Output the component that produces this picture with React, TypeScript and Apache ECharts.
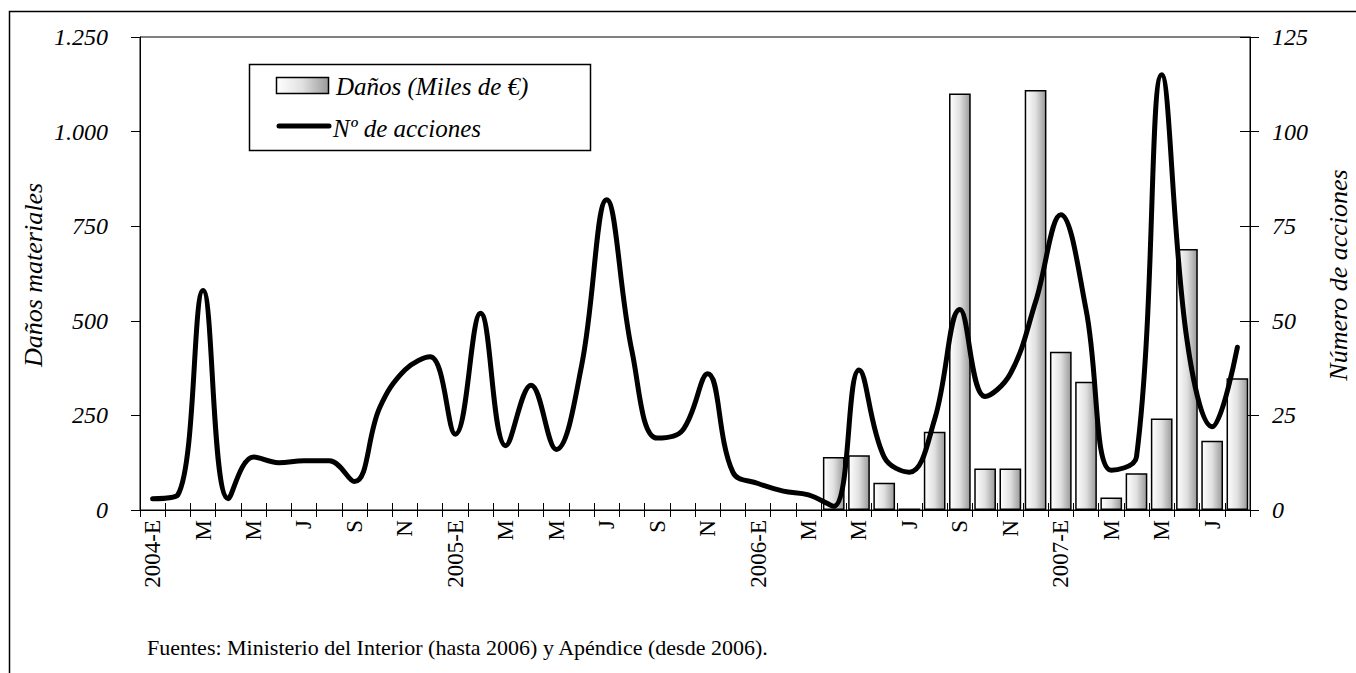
import React, { useEffect, useRef } from "react";
import * as echarts from "echarts";

const categories = [
  "2004-E", "F", "M", "A", "M", "J", "J", "A", "S", "O", "N", "D",
  "2005-E", "F", "M", "A", "M", "J", "J", "A", "S", "O", "N", "D",
  "2006-E", "F", "M", "A", "M", "J", "J", "A", "S", "O", "N", "D",
  "2007-E", "F", "M", "A", "M", "J", "J", "A",
];

// Daños (Miles de €) — left axis
const danos = [
  null, null, null, null, null, null, null, null, null, null, null, null,
  null, null, null, null, null, null, null, null, null, null, null, null,
  null, null, null, 140, 145, 72, 4, 207, 1101, 110, 110, 1110,
  418, 339, 33, 97, 242, 690, 183, 348,
];

// Nº de acciones — right axis
const acciones = [
  3, 4, 58, 3, 14, 12.5, 13, 13, 7.5, 27, 37, 40.5,
  20, 52, 17, 33, 16, 38, 82, 42, 19, 21, 36, 10,
  7, 5, 4, 1, 37, 14, 10, 24, 53, 30, 36, 55,
  78, 53, 10.5, 14, 115, 45, 22, 43,
];

const leftTicks = { min: 0, max: 1250, interval: 250 };
const rightTicks = { min: 0, max: 125, interval: 25 };

const FONT = "'Liberation Serif', 'Times New Roman', serif";

export default function App() {
  const ref = useRef<HTMLDivElement>(null);

  useEffect(() => {
    document.body.style.margin = "0";
    if (!ref.current) return;
    const chart = echarts.init(ref.current, undefined, { renderer: "svg" });

    const barGradient = () =>
      new echarts.graphic.LinearGradient(0, 0, 1, 0, [
        { offset: 0, color: "#ffffff" },
        { offset: 0.5, color: "#e0e0e0" },
        { offset: 1, color: "#9a9a9a" },
      ]);

    const fmt = (v: number) => String(v).replace(/\B(?=(\d{3})+(?!\d))/g, ".");

    const option: any = {
      animation: false,
      grid: {
        left: 140,
        right: 106,
        top: 37,
        bottom: 163,
        show: true,
        borderColor: "#000",
        borderWidth: 1,
        backgroundColor: "transparent",
        containLabel: false,
      },
      xAxis: [
        {
          type: "category",
          data: categories,
          position: "bottom",
          boundaryGap: true,
          axisLine: { lineStyle: { color: "#000", width: 1 } },
          axisTick: { show: true, interval: 0, length: 7, lineStyle: { color: "#000" } },
          axisLabel: {
            interval: 1,
            rotate: 90,
            fontFamily: FONT,
            fontSize: 23,
            color: "#000",
            margin: 10,
          },
          splitLine: { show: false },
        },
        {
          type: "category",
          data: categories,
          position: "bottom",
          boundaryGap: true,
          axisLine: { show: false },
          axisTick: { show: true, inside: true, interval: 0, length: 7, lineStyle: { color: "#000" } },
          axisLabel: { show: false },
          splitLine: { show: false },
        },
      ],
      yAxis: [
        {
          type: "value",
          position: "left",
          ...leftTicks,
          axisLine: { show: true, lineStyle: { color: "#000", width: 1 } },
          axisTick: { show: true, length: 9, lineStyle: { color: "#000" } },
          axisLabel: {
            formatter: fmt,
            fontFamily: FONT,
            fontStyle: "italic",
            fontSize: 24,
            color: "#000",
            margin: 32,
          },
          splitLine: { show: false },
        },
        {
          type: "value",
          position: "right",
          ...rightTicks,
          axisLine: { show: true, lineStyle: { color: "#000", width: 1 } },
          axisTick: { show: true, length: 9, lineStyle: { color: "#000" } },
          axisLabel: {
            fontFamily: FONT,
            fontStyle: "italic",
            fontSize: 24,
            color: "#000",
            margin: 22,
          },
          splitLine: { show: false },
        },
        {
          type: "value",
          position: "right",
          ...rightTicks,
          axisLine: { show: false },
          axisTick: { show: true, inside: true, length: 10, lineStyle: { color: "#000" } },
          axisLabel: { show: false },
          splitLine: { show: false },
        },
      ],
      series: [
        {
          name: "Daños (Miles de €)",
          type: "bar",
          xAxisIndex: 0,
          yAxisIndex: 0,
          data: danos,
          barCategoryGap: "14%",
          itemStyle: { color: barGradient(), borderColor: "#000", borderWidth: 1.5 },
          z: 2,
        },
        {
          name: "Nº de acciones",
          type: "line",
          xAxisIndex: 0,
          yAxisIndex: 1,
          data: acciones,
          smooth: 0.4,
          symbol: "none",
          lineStyle: { color: "#000", width: 5, cap: "round", join: "round" },
          z: 3,
        },
      ],
      graphic: [
        {
          type: "rect",
          silent: true,
          shape: { x: 9.5, y: 11.5, width: 1400, height: 700 },
          style: { fill: "none", stroke: "#000", lineWidth: 1.5 },
          z: 0,
        },
        {
          type: "text",
          x: 33,
          y: 275,
          rotation: Math.PI / 2,
          style: {
            text: "Daños materiales",
            fontFamily: FONT,
            fontStyle: "italic",
            fontSize: 26,
            fill: "#000",
            align: "center",
            verticalAlign: "middle",
          },
        },
        {
          type: "text",
          x: 1338,
          y: 275,
          rotation: Math.PI / 2,
          style: {
            text: "Número de acciones",
            fontFamily: FONT,
            fontStyle: "italic",
            fontSize: 26,
            fill: "#000",
            align: "center",
            verticalAlign: "middle",
          },
        },
        {
          type: "text",
          x: 147,
          y: 647,
          style: {
            text: "Fuentes: Ministerio del Interior (hasta 2006) y Apéndice (desde 2006).",
            fontFamily: FONT,
            fontSize: 22,
            fill: "#000",
            align: "left",
            verticalAlign: "middle",
          },
        },
        {
          type: "group",
          z: 10,
          children: [
            {
              type: "rect",
              shape: { x: 249.5, y: 64.5, width: 341, height: 86 },
              style: { fill: "#fff", stroke: "#000", lineWidth: 1.5 },
            },
            {
              type: "rect",
              shape: { x: 276.5, y: 77.5, width: 52, height: 16 },
              style: { fill: barGradient(), stroke: "#000", lineWidth: 1.5 },
            },
            {
              type: "text",
              x: 336,
              y: 86,
              style: {
                text: "Daños (Miles de €)",
                fontFamily: FONT,
                fontStyle: "italic",
                fontSize: 25,
                fill: "#000",
                align: "left",
                verticalAlign: "middle",
              },
            },
            {
              type: "line",
              shape: { x1: 279, y1: 126, x2: 329, y2: 126 },
              style: { stroke: "#000", lineWidth: 5, lineCap: "round" },
            },
            {
              type: "text",
              x: 333,
              y: 128,
              style: {
                text: "Nº de acciones",
                fontFamily: FONT,
                fontStyle: "italic",
                fontSize: 25,
                fill: "#000",
                align: "left",
                verticalAlign: "middle",
              },
            },
          ],
        },
      ],
    };

    chart.setOption(option);
    return () => chart.dispose();
  }, []);

  return <div ref={ref} style={{ width: 1356, height: 673 }} />;
}
